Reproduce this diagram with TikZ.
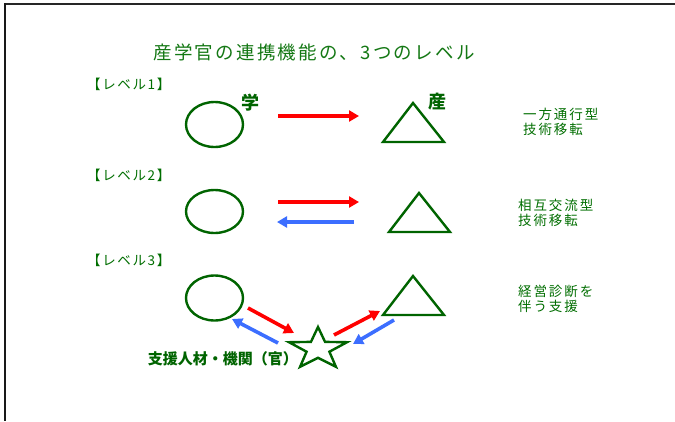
\documentclass[tikz,border=0pt]{standalone}
\usepackage{fontspec}
\usetikzlibrary{arrows.meta,shapes.geometric}
\newfontfamily\jp{Noto Sans CJK JP}
\definecolor{shapegreen}{RGB}{0,100,0}
\definecolor{textgreen}{RGB}{0,110,0}
\definecolor{titlegreen}{RGB}{20,120,20}
\definecolor{arrred}{RGB}{255,0,0}
\definecolor{arrblue}{RGB}{60,110,255}
\tikzset{
  shp/.style={draw=shapegreen, line width=2.4pt, line join=miter},
  circ/.style={shp, ellipse, minimum width=57pt, minimum height=44pt, inner sep=0pt},
  arr/.style={line width=3.6pt, -{Triangle[length=10pt,width=11pt]}},
  redarr/.style={arr, draw=arrred, fill=arrred},
  bluearr/.style={arr, draw=arrblue, fill=arrblue},
  lvl/.style={font=\jp\fontsize{13.5}{15}\selectfont\addfontfeature{LetterSpace=12}, text=textgreen, anchor=west, inner sep=0pt},
  desc/.style={font=\jp\fontsize{13.5}{15.5}\selectfont\addfontfeature{LetterSpace=14}, text=textgreen, anchor=north west, align=left, inner sep=0pt},
  boldlab/.style={font=\jp\bfseries\fontsize{15}{17}\selectfont, text=shapegreen, inner sep=0pt},
  bigbold/.style={font=\jp\bfseries\fontsize{18}{20}\selectfont, text=shapegreen, inner sep=0pt}
}
\begin{document}
\begin{tikzpicture}[x=1pt,y=-1pt]
\useasboundingbox (0,0) rectangle (675,421);
\fill[white] (0,0) rectangle (675,421);
% frame
\draw[line width=1.6pt, black!85] (5,4) -- (675,4);
\draw[line width=2pt, black!90] (5,3.2) -- (5,421);
% title
\node[font=\jp\fontsize{18.5}{20}\selectfont\addfontfeature{LetterSpace=12}, text=titlegreen, inner sep=0pt] (title) at (314,52) {産学官の連携機能の、3つのレベル};
% level labels
\node[lvl] (l1) at (87,84) {【レベル1】};
\node[lvl] (l2) at (87,175) {【レベル2】};
\node[lvl] (l3) at (87,260) {【レベル3】};
% level 1
\node[circ, minimum height=45pt] (c1) at (214.5,124.5) {};
\draw[shp] (413,103) -- (444,142) -- (383,142) -- cycle;
\coordinate (t1) at (413,128);
\node[bigbold] (gaku) at (250,103) {学};
\node[bigbold] (san) at (437,102) {産};
\coordinate (a1s) at (278,116);
\coordinate (a1e) at (359,116);
\draw[redarr] (a1s) -- (a1e);
\node[desc] (d1) at (523,107.5) {一方通行型\\技術移転};
% level 2
\node[circ, minimum height=43pt] (c2) at (214.5,211.5) {};
\draw[shp] (419,193) -- (450,232) -- (389,232) -- cycle;
\coordinate (t2) at (419,218);
\coordinate (a2s) at (278,202);
\coordinate (a2e) at (359,202);
\coordinate (b2s) at (354,222);
\coordinate (b2e) at (277,222);
\draw[redarr] (a2s) -- (a2e);
\draw[bluearr] (b2s) -- (b2e);
\node[desc] (d2) at (518,198.5) {相互交流型\\技術移転};
% level 3
\node[circ, minimum height=45pt] (c3) at (214.5,298) {};
\draw[shp] (413,276) -- (444,315) -- (383,315) -- cycle;
\coordinate (t3) at (413,301);
\coordinate (st) at (318,349);
\draw[shp] (st) +(270:30.5 and 22) -- +(234:12 and 8.8) -- +(198:30.5 and 22) -- +(162:12 and 8.8)
  -- +(126:30.5 and 22) -- +(90:12 and 8.8) -- +(54:30.5 and 22) -- +(18:12 and 8.8)
  -- +(342:30.5 and 22) -- +(306:12 and 8.8) -- cycle;
\coordinate (r1s) at (248,308);
\coordinate (r1e) at (294,333);
\coordinate (b1s) at (278,343);
\coordinate (b1e) at (232,319);
\coordinate (r2s) at (334,335);
\coordinate (r2e) at (380,311);
\coordinate (b3s) at (394,320);
\coordinate (b3e) at (353,344);
\draw[redarr] (r1s) -- (r1e);
\draw[bluearr] (b1s) -- (b1e);
\draw[redarr] (r2s) -- (r2e);
\draw[bluearr] (b3s) -- (b3e);
\node[desc] (d3) at (518,284.5) {経営診断を\\伴う支援};
\node[boldlab, anchor=east] (gov) at (298,359) {支援人材・機関（官）};
\end{tikzpicture}
\end{document}
